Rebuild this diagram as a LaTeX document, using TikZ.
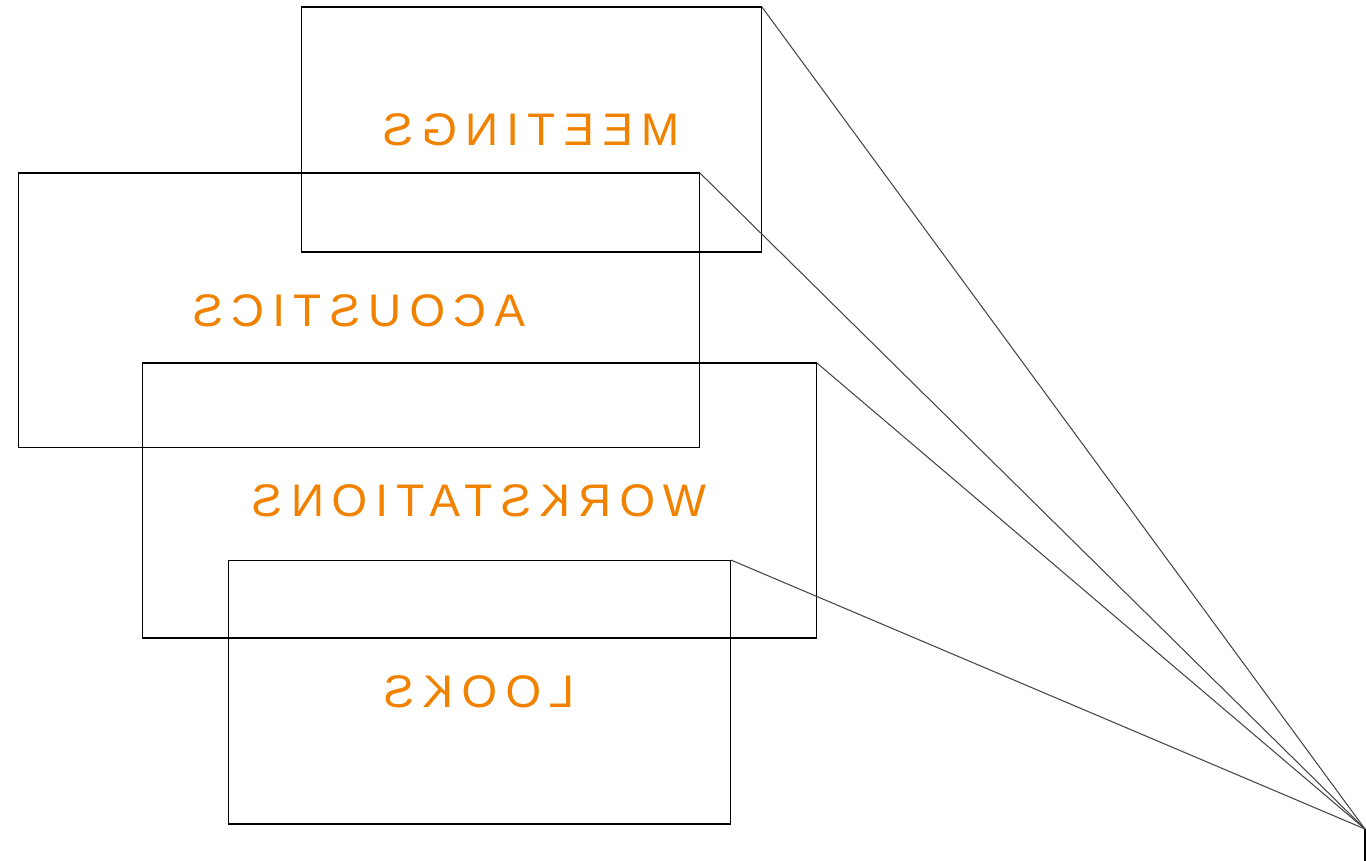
\documentclass[tikz,border=0pt]{standalone}
\usepackage{fontspec}
\usepackage{graphicx}
\setmainfont{Liberation Sans}
\usepackage{tikz}
\definecolor{signorange}{RGB}{240, 130, 0}
\definecolor{raygray}{RGB}{70, 70, 70}

\tikzset{
    panel/.style={draw=black, line width=0.6pt, inner sep=0pt, outer sep=0pt,
        font=\fontsize{26}{30}\selectfont\addfontfeature{LetterSpace=18},
        text=signorange},
    ray/.style={draw=raygray, line width=0.6pt}
}
\newcommand{\mirror}[1]{\reflectbox{#1}}

\begin{document}
\begin{tikzpicture}[x=0.02cm, y=-0.02cm]
    \useasboundingbox (0,0) rectangle (1366,861);

    \node[panel, minimum width=9.22cm, minimum height=4.9cm] (meet) at (531.5,129.5) {\mirror{MEETINGS}};
    \node[panel, minimum width=13.64cm, minimum height=5.5cm] (acou) at (359,310.5) {\mirror{ACOUSTICS}};
    \node[panel, minimum width=13.5cm, minimum height=5.5cm] (work) at (479.5,500.5) {\mirror{WORKSTATIONS}};
    \node[panel, minimum width=10.06cm, minimum height=5.28cm] (look) at (479.5,692) {\mirror{LOOKS}};

    \coordinate (apex) at (1365,829);
    \coordinate (foot) at (1365,861);

    \draw[ray] (meet.north east) -- (apex);
    \draw[ray] (acou.north east) -- (apex);
    \draw[ray] (work.north east) -- (apex);
    \draw[ray] (look.north east) -- (apex);
    \draw[line width=0.8pt] (apex) -- (foot);
\end{tikzpicture}
\end{document}
